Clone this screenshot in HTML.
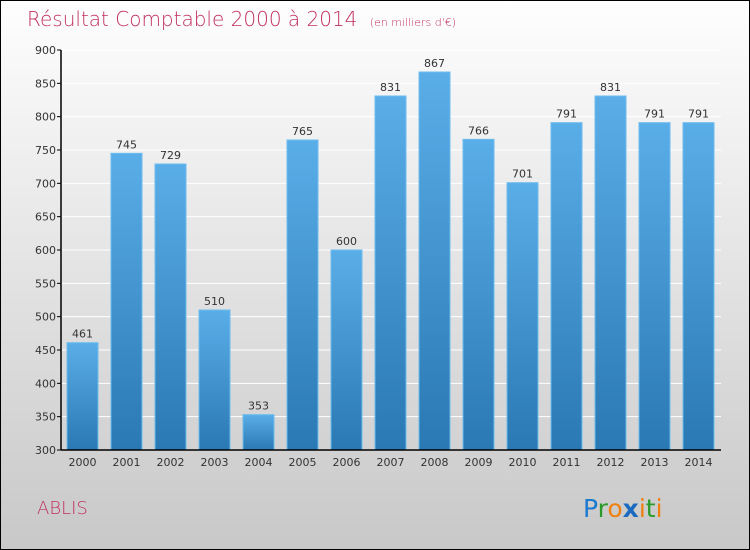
<!DOCTYPE html>
<html><head><meta charset="utf-8"><style>
body{margin:0}
#c{width:748px;height:548px;border:1px solid #000;background:linear-gradient(#fefefe,#c8c8c8);position:relative;font-family:"DejaVu Sans","Liberation Sans",sans-serif;overflow:hidden}
</style></head><body>
<div id="c">
<svg id="s" width="748" height="548">
<defs><linearGradient id="g" x1="0" y1="0" x2="0" y2="1"><stop offset="0" stop-color="#5aaee8"/><stop offset="1" stop-color="#2a78b4"/></linearGradient></defs>
<text x="26" y="25" font-size="20" fill="#c0305f" style="font-family:'DejaVu Sans',sans-serif;font-weight:200">Résultat Comptable 2000 à 2014 <tspan font-size="11" dx="6">(en milliers d'€)</tspan></text>
<g id="plot"></g>
<text x="36" y="513" font-size="18" fill="#c0305f" style="font-weight:200">ABLIS</text>
<text x="582" y="516" font-size="25" font-family="'DejaVu Sans',sans-serif"><tspan fill="#1a7ad0">P</tspan><tspan fill="#2a9a2a">r</tspan><tspan fill="#f08010">o</tspan><tspan fill="#1a6ac0" font-weight="bold">x</tspan><tspan fill="#f08010">i</tspan><tspan fill="#2a9a2a">t</tspan><tspan fill="#f08010">i</tspan></text>
</svg></div>
<script>
const years=["2000","2001","2002","2003","2004","2005","2006","2007","2008","2009","2010","2011","2012","2013","2014"];
const values=[461,745,729,510,353,765,600,831,867,766,701,791,831,791,791];
const ticks=[300,350,400,450,500,550,600,650,700,750,800,850,900];
const NS="http://www.w3.org/2000/svg";
const g=document.getElementById('plot');
const x0=60,x1=720,yT=49,yB=449,vmin=300,vmax=900;
const y=v=>yB-(v-vmin)/(vmax-vmin)*(yB-yT);
const step=44,bw=31,first=66;
const xb=i=>first+i*step;
function el(t,a){const e=document.createElementNS(NS,t);for(const k in a)e.setAttribute(k,a[k]);g.appendChild(e);return e;}
ticks.forEach(t=>{
 const l=el('line',{x1:x0,x2:x1,y1:y(t),y2:y(t),stroke:'#fff','stroke-width':1});
 
 
 const k=el('line',{x1:x0-4,x2:x0,y1:y(t),y2:y(t),stroke:'#000'});
 
 
 const tx=el('text',{x:x0-5,y:y(t)+4,'font-size':11,'text-anchor':'end',fill:'#333'});
 tx.textContent=t;
 
 
});
values.forEach((v,i)=>{
 const r=el('rect',{x:xb(i),y:y(v),width:bw,height:yB-y(v),fill:'url(#g)',stroke:'#6cbcf0','stroke-width':1});
 
 
 const t=el('text',{x:xb(i)+bw/2,y:y(v)-5,'font-size':11,'text-anchor':'middle',fill:'#333'});
 t.textContent=v;
 
 
 const xl=el('text',{x:xb(i)+bw/2,y:yB+16,'font-size':11,'text-anchor':'middle',fill:'#333'});
 xl.textContent=years[i];
 
 
});
const ya=el('line',{x1:x0,x2:x0,y1:yT,y2:yB,stroke:'#000','stroke-width':1.5});


const xa=el('line',{x1:x0,x2:x1,y1:yB,y2:yB,stroke:'#000','stroke-width':1.5});


</script>
</body></html>
